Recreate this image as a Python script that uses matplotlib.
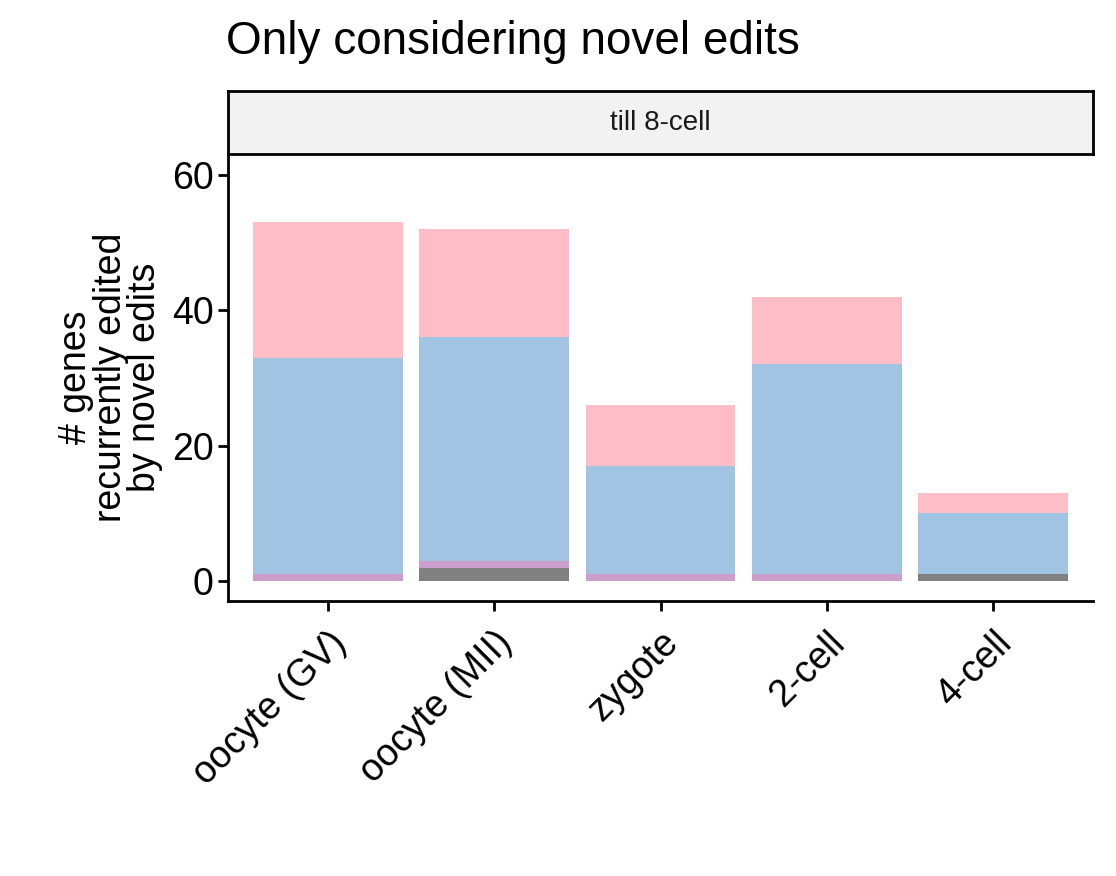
import matplotlib
matplotlib.use("Agg")
import matplotlib.pyplot as plt
import numpy as np

categories = ["oocyte (GV)", "oocyte (MII)", "zygote", "2-cell", "4-cell"]
gray = [0, 2, 0, 0, 1]
purple = [1, 1, 1, 1, 0]
blue = [32, 33, 16, 31, 9]
pink = [20, 16, 9, 10, 3]
colors = ["#808080", "#CC9ECC", "#A0C4E2", "#FFBDC8"]

plt.rcParams['font.family'] = ['Liberation Sans', 'DejaVu Sans']
fig = plt.figure(figsize=(11.16, 8.76), dpi=100)
W, H = 1116, 876
ax = fig.add_axes([228/W, 1-601/H, (1093-228)/W, (601-154)/H])
x = np.arange(len(categories))
bottom = np.zeros(len(x))
for vals, c in zip([gray, purple, blue, pink], colors):
    ax.bar(x, vals, bottom=bottom, width=0.9, color=c, linewidth=0)
    bottom += np.array(vals)
ax.set_xlim(-0.6, 4.6)
ax.set_ylim(-2.95, 63.1)
ax.set_yticks([0, 20, 40, 60])
ax.set_xticks(x)
ax.set_xticklabels(categories, rotation=45, ha='right', rotation_mode='anchor', fontsize=27)
ax.tick_params(axis='y', labelsize=27, length=7, width=2)
ax.tick_params(axis='x', length=7, width=2, pad=10)
for s in ['top', 'right']:
    ax.spines[s].set_visible(False)
for s in ['left', 'bottom']:
    ax.spines[s].set_linewidth(2)
ax.set_ylabel("# genes\nrecurrently edited\nby novel edits", fontsize=27, linespacing=0.95, labelpad=6)
# strip
sax = fig.add_axes([228/W, 1-154/H, (1093-228)/W, (154-91)/H])
sax.set_facecolor("#F2F2F2")
sax.set_xticks([]); sax.set_yticks([])
for s in sax.spines.values():
    s.set_linewidth(2)
sax.text(0.5, 0.5, "till 8-cell", ha='center', va='center', fontsize=20, color="#1A1A1A", transform=sax.transAxes)
fig.text(226/W, 1-42/H, "Only considering novel edits", fontsize=33, va='center', ha='left')
fig.savefig("out.png", dpi=100)
